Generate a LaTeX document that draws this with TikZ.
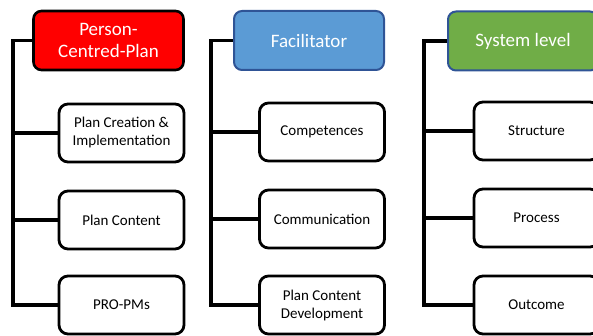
\documentclass[tikz,border=0pt]{standalone}
\usepackage{fontspec}
\setmainfont{Carlito}
\usepackage{xcolor}
\definecolor{hdrred}{RGB}{255, 0, 0}
\definecolor{hdrblue}{RGB}{91, 155, 213}
\definecolor{hdrgreen}{RGB}{112, 173, 71}
\definecolor{hdredge}{RGB}{47, 84, 150}

\begin{document}
\begin{tikzpicture}[x=1pt,y=-1pt,
    hdr/.style={draw,line width=2.6pt,rounded corners=8pt,minimum width=150pt,minimum height=59pt,
        align=center,text=white,font=\fontsize{19}{22}\selectfont},
    item/.style={draw,fill=white,line width=2.8pt,rounded corners=9pt,minimum width=125pt,minimum height=58pt,
        align=center,font=\fontsize{15}{18}\selectfont},
    link/.style={line width=3.2pt}]
        \useasboundingbox (0,0) rectangle (593,336);
        \clip (0,0) rectangle (593,336);
        % person-centred plan
        \node[hdr,fill=hdrred] (pcp) at (108.5,40.5) {Person-\\Centred-Plan};
        \foreach \nm/\yy/\lab in {pcp1/133/{Plan Creation \&\\Implementation}, pcp2/220/{Plan Content}, pcp3/305/{PRO-PMs}}
            \node[item] (\nm) at (121.5,\yy) {\lab};
        \coordinate (pcpT) at (13,0);
        \draw[link] (pcp.west) -| (pcpT |- pcp3.west) -- (pcp3.west);
        \foreach \nm in {pcp1,pcp2}
            \draw[link] (\nm.west) -- (\nm.west -| pcpT);
        % facilitator
        \node[hdr,fill=hdrblue,draw=hdredge,line width=2pt] (fac) at (309,40.5) {Facilitator};
        \foreach \nm/\yy/\lab in {fac1/132/{Competences}, fac2/219/{Communication}, fac3/305/{Plan Content\\Development}}
            \node[item] (\nm) at (322,\yy) {\lab};
        \coordinate (facT) at (211,0);
        \draw[link] (fac.west) -| (facT |- fac3.west) -- (fac3.west);
        \foreach \nm in {fac1,fac2}
            \draw[link] (\nm.west) -- (\nm.west -| facT);
        % system level
        \node[hdr,fill=hdrgreen,draw=hdredge,line width=2pt] (sys) at (523,41) {System level};
        \foreach \nm/\yy/\lab in {sys1/131/{Structure}, sys2/218/{Process}, sys3/305/{Outcome}}
            \node[item] (\nm) at (536.5,\yy) {\lab};
        \coordinate (sysT) at (424,0);
        \draw[link] (sys.west) -| (sysT |- sys3.west) -- (sys3.west);
        \foreach \nm in {sys1,sys2}
            \draw[link] (\nm.west) -- (\nm.west -| sysT);
    \end{tikzpicture}
\end{document}
